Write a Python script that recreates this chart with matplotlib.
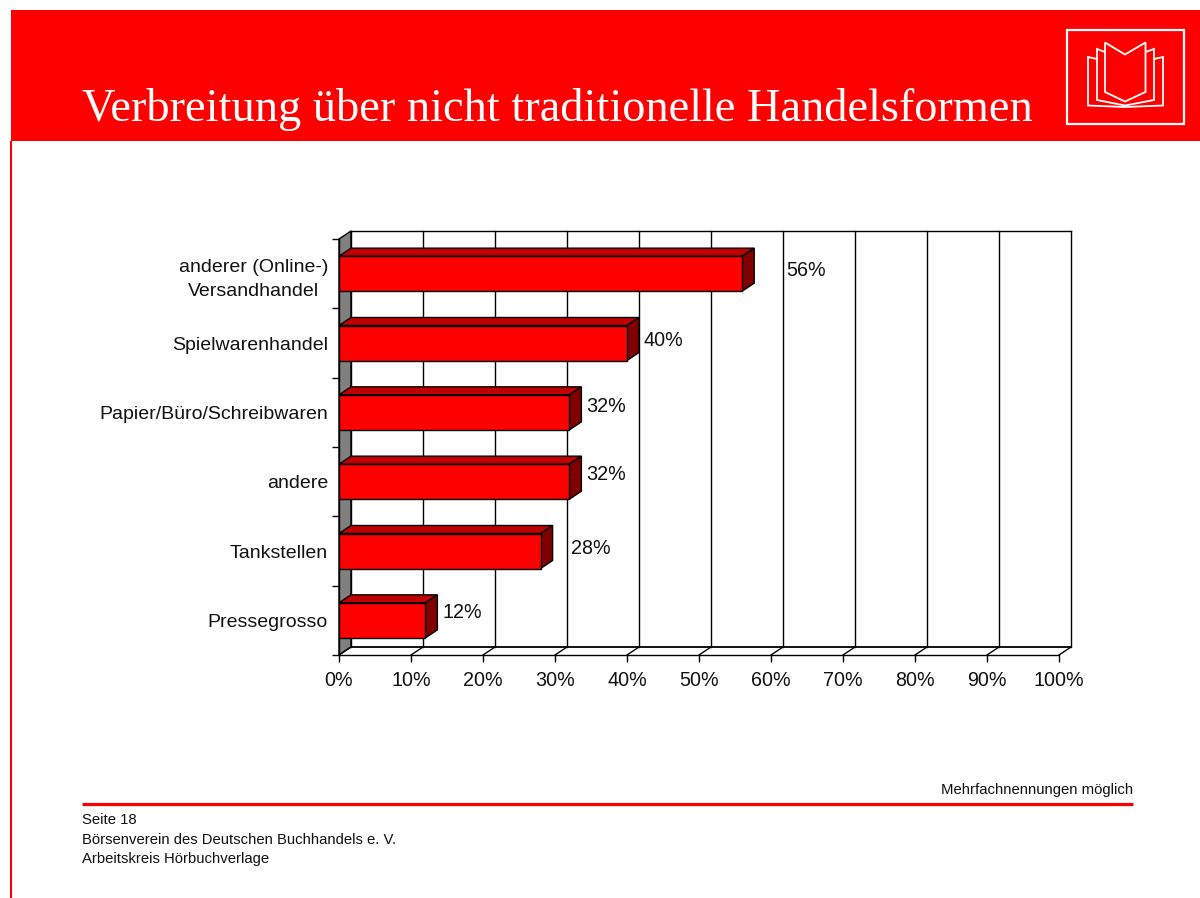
"""Verbreitung ueber nicht traditionelle Handelsformen - 3D look bar chart."""
import matplotlib
matplotlib.use('Agg')
import matplotlib.pyplot as plt
from matplotlib.patches import Polygon, Rectangle
from matplotlib.transforms import Affine2D

plt.rcParams['font.family'] = ['Liberation Sans', 'DejaVu Sans']

# ------------------------------------------------------------
# Data
# ------------------------------------------------------------
categories = ['anderer (Online-)\nVersandhandel', 'Spielwarenhandel',
              'Papier/Büro/Schreibwaren', 'andere', 'Tankstellen', 'Pressegrosso']
values = [56, 40, 32, 32, 28, 12]
value_labels = ['56%', '40%', '32%', '32%', '28%', '12%']
x_ticks = [0, 10, 20, 30, 40, 50, 60, 70, 80, 90, 100]
x_tick_labels = ['0%', '10%', '20%', '30%', '40%', '50%', '60%', '70%', '80%', '90%', '100%']

title = 'Verbreitung über nicht traditionelle Handelsformen'
note = 'Mehrfachnennungen möglich'
footer = ['Seite 18', 'Börsenverein des Deutschen Buchhandels e. V.', 'Arbeitskreis Hörbuchverlage']

# where the data labels sit, pixels (left edge, vertical centre)
label_px = [(786, 270), (643, 341), (586, 406), (586, 474), (571, 548), (442, 613)]

RED = '#ff0000'
W, H = 1200, 898
fig = plt.figure(figsize=(W / 100, H / 100), dpi=100, facecolor='white')

# ------------------------------------------------------------
# Slide frame, drawn in pixel coordinates
# ------------------------------------------------------------
bg = fig.add_axes([0, 0, 1, 1])
bg.set_xlim(0, W)
bg.set_ylim(H, 0)
bg.axis('off')

bg.add_patch(Rectangle((11, 10), W - 11, 131, color=RED, lw=0))
bg.plot([11, 11], [141, H], color=RED, lw=1.5, solid_capstyle='butt')
bg.text(82, 121, title, family='Liberation Serif', fontsize=33.4, color='white',
        ha='left', va='baseline')

# book logo
bg.add_patch(Rectangle((1067, 30), 116.5, 94, fill=False, ec='white', lw=1.6))
pages = [
    [(1105, 42.5), (1125, 54.5), (1145.5, 42.5), (1145.5, 92), (1125, 101.5), (1105, 92)],
    [(1105, 52), (1097, 49), (1097, 100), (1125, 105.5), (1154, 100), (1154, 49), (1145.5, 52)],
    [(1097, 59), (1088, 57), (1088, 105.5), (1125, 107), (1163, 105.5), (1163, 57), (1154, 59)],
]
for i, page in enumerate(pages):
    bg.add_patch(Polygon(page, closed=i == 0, fill=False, ec='white', lw=1.3, joinstyle='miter'))

# footer
bg.plot([82, 1133], [803.5, 803.5], color=RED, lw=2.3, solid_capstyle='butt')
bg.text(1133, 790, note, fontsize=10.7, ha='right', va='center', color='#111111')
for line, y in zip(footer, [820, 840, 859]):
    bg.text(82, y, line, fontsize=10.7, ha='left', va='center', color='#111111')

# ------------------------------------------------------------
# Chart axes = front plane of the 3D box
# ------------------------------------------------------------
x0, x1, y_top, y_bot = 339, 1059, 239, 655
ax = fig.add_axes([x0 / W, 1 - y_bot / H, (x1 - x0) / W, (y_bot - y_top) / H])
ax.patch.set_alpha(0)
n = len(categories)
ax.set_xlim(0, 100)
ax.set_ylim(n - 0.5, -0.5)

dx = 12 / 7.2               # depth in x, data units
dy = 8 / ((y_bot - y_top) / n)   # depth in y, data units
top, bot = -0.5, n - 0.5

for s in ['top', 'right']:
    ax.spines[s].set_visible(False)
for s in ['left', 'bottom']:
    ax.spines[s].set_linewidth(1)

ax.add_patch(Polygon([(0, top), (dx, top - dy), (dx, bot - dy), (0, bot)], closed=True,
                     fc='#808080', ec='black', lw=1, clip_on=False, zorder=1))

# back wall grid
for t in x_ticks:
    ax.plot([t + dx, t + dx], [top - dy, bot - dy], color='black', lw=1, clip_on=False, zorder=1)
    ax.plot([t, t + dx], [bot, bot - dy], color='black', lw=1, clip_on=False, zorder=1)
ax.plot([dx, 100 + dx], [top - dy, top - dy], color='black', lw=1, clip_on=False, zorder=1)
ax.plot([dx, 100 + dx], [bot - dy, bot - dy], color='black', lw=1.3, clip_on=False, zorder=1)

# bars
bar_h = 35 / ((y_bot - y_top) / n)
ypos = list(range(n))
ax.barh(ypos, values, height=bar_h, color=RED, edgecolor='black', linewidth=1, zorder=3)
for y, v in zip(ypos, values):
    t, b = y - bar_h / 2, y + bar_h / 2
    ax.add_patch(Polygon([(0, t), (dx, t - dy), (v + dx, t - dy), (v, t)], closed=True,
                         fc='#c00000', ec='black', lw=1, clip_on=False, zorder=2))
    ax.add_patch(Polygon([(v, t), (v + dx, t - dy), (v + dx, b - dy), (v, b)], closed=True,
                         fc='#800000', ec='black', lw=1, clip_on=False, zorder=2))

for txt, (px, py) in zip(value_labels, label_px):
    bg.text(px, py, txt, fontsize=14.2, ha='left', va='center', color='#111111')

# ticks at band edges, labels at band centres
ax.set_yticks([i - 0.5 for i in range(n + 1)])
ax.set_yticklabels([])
ax.set_yticks(ypos, minor=True)
ylabels = ax.set_yticklabels(categories, minor=True, fontsize=14.0, color='#111111',
                             multialignment='center', linespacing=1.55)
# two line label sits a bit higher than the band centre
ylabels[0].set_transform(ylabels[0].get_transform() + Affine2D().translate(0, 3))
ax.tick_params(axis='y', which='major', length=5, width=1, direction='out')
ax.tick_params(axis='y', which='minor', length=0, pad=8)
ax.set_xticks(x_ticks)
ax.set_xticklabels(x_tick_labels, fontsize=14.2, color='#111111')
ax.tick_params(axis='x', length=5, width=1, direction='out', pad=6.5)

fig.savefig('out.png', dpi=100, facecolor='white')
